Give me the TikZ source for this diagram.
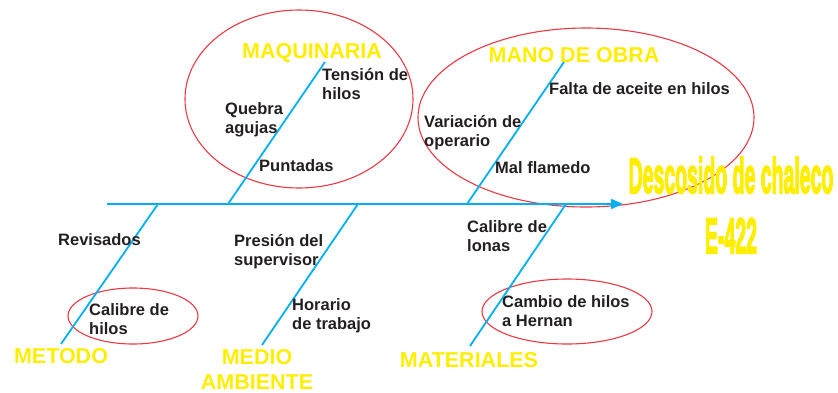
\documentclass[tikz,border=0pt]{standalone}
\usepackage{fontspec}
\setmainfont{Liberation Sans}
\newfontfamily\titlefont[FakeBold=4]{Liberation Sans Bold}
\usepackage{graphicx}
\usetikzlibrary{arrows.meta}
\definecolor{bone}{RGB}{0,176,240}
\definecolor{ring}{RGB}{232,58,68}
\definecolor{cat}{RGB}{255,238,0}
\definecolor{ink}{RGB}{35,31,32}
\begin{document}
\begin{tikzpicture}[x=1pt,y=-1pt,
  bonestyle/.style={draw=bone,line width=1.8pt},
  ringstyle/.style={draw=ring,line width=1.1pt},
  cause/.style={inner sep=0pt,anchor=west,align=left,text=ink,font=\fontsize{16.5}{19}\selectfont\bfseries},
  category/.style={inner sep=0pt,text=cat,font=\fontsize{21.5}{25}\selectfont\bfseries},
  ]
\useasboundingbox (0,0) rectangle (838,392);

% ellipses
\draw[ringstyle] (299,99) ellipse [x radius=114, y radius=89];
\draw[ringstyle] (586,117.5) ellipse [x radius=168, y radius=89.5];
\draw[ringstyle] (133,316) ellipse [x radius=65, y radius=28];
\draw[ringstyle] (567,311.5) ellipse [x radius=85, y radius=32.5];

% spine and bones
\coordinate (tail) at (107,204);
\coordinate (head) at (623,204);
\coordinate (mqA) at (228,204); \coordinate (mqB) at (325,62);
\coordinate (moA) at (467,204); \coordinate (moB) at (564,62);
\coordinate (meA) at (158,204); \coordinate (meB) at (61,344);
\coordinate (maA) at (358,204); \coordinate (maB) at (262,345);
\coordinate (mtA) at (566,204); \coordinate (mtB) at (470,346);

\draw[bonestyle,-{Triangle[length=12pt,width=10pt]}] (tail) -- (head);
\draw[bonestyle] (mqA) -- (mqB);
\draw[bonestyle] (moA) -- (moB);
\draw[bonestyle] (meA) -- (meB);
\draw[bonestyle] (maA) -- (maB);
\draw[bonestyle] (mtA) -- (mtB);

% causes
\node[cause] (c1) at (322,85.7) {\strut Tensión de\\\strut hilos};
\node[cause] (c2) at (225,119.7) {\strut Quebra\\\strut agujas};
\node[cause] (c3) at (259,168) {\strut Puntadas};
\node[cause] (c4) at (549,91) {\strut Falta de aceite en hilos};
\node[cause] (c5) at (424,132.7) {\strut Variación de\\\strut operario};
\node[cause] (c6) at (495,170) {\strut Mal flamedo};
\node[cause] (c7) at (467,237.7) {\strut Calibre de\\\strut lonas};
\node[cause] (c8) at (58,242) {\strut Revisados};
\node[cause] (c9) at (89,320.7) {\strut Calibre de\\\strut hilos};
\node[cause] (c10) at (234,251.7) {\strut Presión del\\\strut supervisor};
\node[cause] (c11) at (292,315.7) {\strut Horario\\\strut de trabajo};
\node[cause] (c12) at (502,313) {\strut Cambio de hilos\\\strut a Hernan};

% categories
\node[category,anchor=base] (k1) at (312,58) {MAQUINARIA};
\node[category,anchor=base] (k2) at (574,62) {MANO DE OBRA};
\node[category,anchor=base] (k3) at (61,363) {METODO};
\node[category,align=center] (k4) at (257,371.5) {\strut MEDIO\\\strut AMBIENTE};
\node[category,anchor=base] (k5) at (469,367) {MATERIALES};

% effect
\node[inner sep=0pt,text=cat] (title) at (731,211)
  {\scalebox{0.39}[1]{\fontsize{50}{60}\titlefont\selectfont\begin{tabular}{@{}c@{}}Descosido de chaleco\\E-422\end{tabular}}};
\end{tikzpicture}
\end{document}
